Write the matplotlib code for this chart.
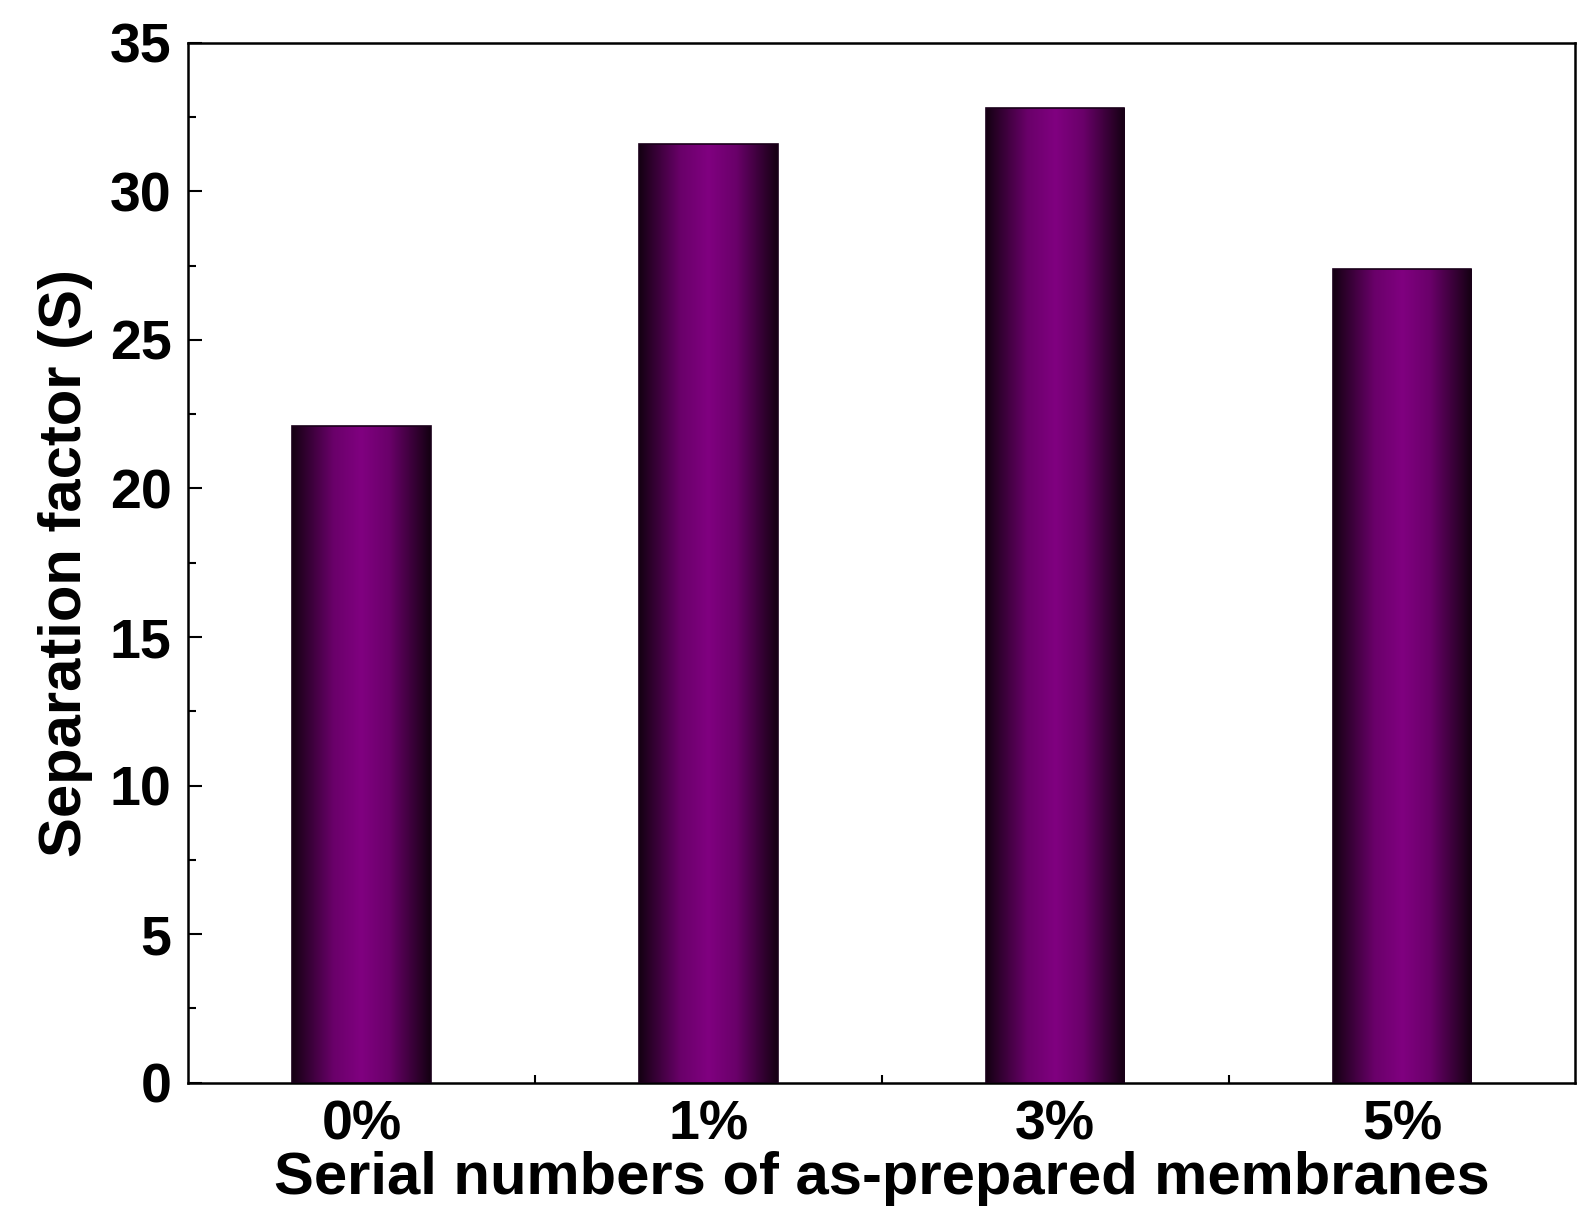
import matplotlib
matplotlib.use('Agg')
import matplotlib.pyplot as plt
import numpy as np
from matplotlib.colors import LinearSegmentedColormap
from matplotlib.ticker import MultipleLocator, FixedLocator

categories = ['0%', '1%', '3%', '5%']
values = [22.1, 31.6, 32.8, 27.4]

plt.rcParams['font.family'] = ['Liberation Sans', 'DejaVu Sans']
plt.rcParams['font.weight'] = 'bold'

fig = plt.figure(figsize=(15.88, 12.22), dpi=100)
ax = fig.add_axes([0.1185, 0.114, 0.8735, 0.851])

cmap = LinearSegmentedColormap.from_list(
    'bar', [(0, '#140012'), (0.3, '#6a006a'), (0.5, '#800080'), (0.7, '#6a006a'), (1, '#140012')])
grad = np.linspace(0, 1, 256).reshape(1, -1)
width = 0.4
x = np.arange(len(categories))
bars = ax.bar(x, values, width=width, color='none', edgecolor='#1a001a', linewidth=1.2, zorder=3)
for b in bars:
    x0, y0 = b.get_x(), b.get_y()
    im = ax.imshow(grad, cmap=cmap, aspect='auto', extent=[x0, x0 + b.get_width(), y0, y0 + b.get_height()],
                   zorder=2)
    im.set_clip_path(b)

ax.set_xlim(-0.5, 3.5)
ax.set_ylim(0, 35)
ax.set_xticks(x)
ax.set_xticklabels(categories)
ax.xaxis.set_minor_locator(FixedLocator([0.5, 1.5, 2.5]))
ax.yaxis.set_major_locator(MultipleLocator(5))
ax.yaxis.set_minor_locator(MultipleLocator(2.5))
ax.tick_params(axis='both', which='major', direction='in', length=10, width=1.5, labelsize=40, pad=12)
ax.tick_params(axis='x', which='major', length=0)
ax.tick_params(axis='both', which='minor', direction='in', length=6, width=1.5)
for s in ax.spines.values():
    s.set_linewidth(1.8)

ax.set_xlabel('Serial numbers of as-prepared membranes', fontsize=43, fontweight='bold', labelpad=0)
ax.set_ylabel('Separation factor (S)', fontsize=43, fontweight='bold', labelpad=12)

fig.savefig('out.png', dpi=100)
